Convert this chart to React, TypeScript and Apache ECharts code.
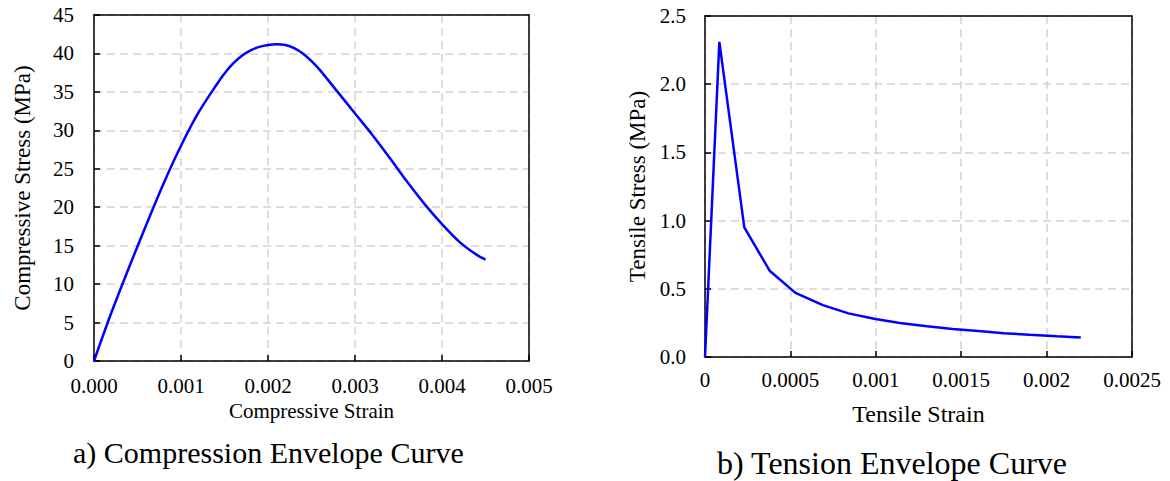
import React, { useEffect, useRef } from "react";
import * as echarts from "echarts";

// Compression envelope: strain vs stress (MPa)
const compStrain = [0, 0.0002, 0.0004, 0.0006, 0.0008, 0.001, 0.0012, 0.0014, 0.0015, 0.0016, 0.0017, 0.0018, 0.0019, 0.002, 0.0021, 0.0022, 0.0023, 0.0024, 0.0025, 0.0026, 0.0028, 0.003, 0.0032, 0.0034, 0.0036, 0.0038, 0.004, 0.0042, 0.0044, 0.0045];
const compStress = [0, 6.3, 12.1, 17.7, 23.1, 28.0, 32.3, 35.8, 37.4, 38.7, 39.7, 40.4, 40.85, 41.1, 41.2, 41.1, 40.7, 40.0, 39.0, 37.8, 35.0, 32.2, 29.4, 26.4, 23.3, 20.4, 17.8, 15.5, 13.8, 13.2];

// Tension envelope: strain vs stress (MPa)
const tensStrain = [0, 0.000084, 0.00023, 0.00038, 0.00053, 0.00069, 0.00084, 0.00099, 0.00114, 0.0013, 0.00145, 0.0016, 0.00175, 0.0019, 0.00206, 0.0022];
const tensStress = [0, 2.31, 0.95, 0.63, 0.47, 0.38, 0.32, 0.28, 0.25, 0.225, 0.205, 0.19, 0.175, 0.163, 0.152, 0.143];

const captions = ["a) Compression Envelope Curve", "b) Tension Envelope Curve"];

const FONT = "'Liberation Serif', 'Times New Roman', serif";

export default function App() {
  const ref = useRef<HTMLDivElement>(null);

  useEffect(() => {
    document.body.style.margin = "0";
    const chart = echarts.init(ref.current!, undefined, { renderer: "svg" });

    const axisLine = { show: true, onZero: false, lineStyle: { color: "#000", width: 1.5 } };
    const axisTick = { show: true, inside: true, length: 6, lineStyle: { color: "#000", width: 1.5 } };
    const splitLine = { show: true, lineStyle: { color: "#d4d4d4", width: 1.5, type: [8, 5] as any } };
    const tickLabel = { color: "#000", fontFamily: FONT, fontSize: 21 };
    const nameStyle = (size: number) => ({ color: "#000", fontFamily: FONT, fontSize: size });

    // Plain frame edges (top / right) drawn as bare axes so they sit above the grid lines
    const frame = (gridIndex: number, position: string, min: number, max: number) => ({
      type: "value", gridIndex, position, min, max,
      axisLine, axisTick: { show: false }, axisLabel: { show: false }, splitLine: { show: false },
    });

    const option: any = {
      animation: false,
      backgroundColor: "#fff",
      grid: [
        { left: 94, top: 15, width: 435, height: 346 },
        { left: 705, top: 16, width: 427, height: 341 },
      ],
      xAxis: [
        {
          type: "value", gridIndex: 0, min: 0, max: 0.005, interval: 0.001,
          name: "Compressive Strain", nameLocation: "middle", nameGap: 39, nameTextStyle: nameStyle(21),
          axisLine, axisTick, splitLine,
          axisLabel: { ...tickLabel, margin: 14, formatter: (v: number) => v.toFixed(3) },
        },
        {
          type: "value", gridIndex: 1, min: 0, max: 0.0025, interval: 0.0005,
          name: "Tensile Strain", nameLocation: "middle", nameGap: 45, nameTextStyle: nameStyle(24),
          axisLine, axisTick, splitLine,
          axisLabel: { ...tickLabel, margin: 12, formatter: (v: number) => String(parseFloat(v.toFixed(4))) },
        },
        frame(0, "top", 0, 0.005),
        frame(1, "top", 0, 0.0025),
      ],
      yAxis: [
        {
          type: "value", gridIndex: 0, min: 0, max: 45, interval: 5,
          name: "Compressive Stress (MPa)", nameLocation: "middle", nameGap: 60, nameRotate: 90, nameTextStyle: nameStyle(23),
          axisLine, axisTick, splitLine,
          axisLabel: { ...tickLabel, margin: 20 },
        },
        {
          type: "value", gridIndex: 1, min: 0, max: 2.5, interval: 0.5,
          name: "Tensile Stress (MPa)", nameLocation: "middle", nameGap: 56, nameRotate: 90, nameTextStyle: nameStyle(23),
          axisLine, axisTick, splitLine,
          axisLabel: { ...tickLabel, margin: 19, formatter: (v: number) => v.toFixed(1) },
        },
        frame(0, "right", 0, 45),
        frame(1, "right", 0, 2.5),
      ],
      series: [
        {
          type: "line", xAxisIndex: 0, yAxisIndex: 0, smooth: 0.3, showSymbol: false,
          lineStyle: { color: "#0000ff", width: 2.5 },
          data: compStrain.map((s, i) => [s, compStress[i]]),
        },
        {
          type: "line", xAxisIndex: 1, yAxisIndex: 1, smooth: false, showSymbol: false,
          lineStyle: { color: "#0000ff", width: 2.5 },
          data: tensStrain.map((s, i) => [s, tensStress[i]]),
        },
      ],
      graphic: [
        { type: "text", left: 73, top: 437, style: { text: captions[0], fill: "#000", font: `30px ${FONT}` } },
        { type: "text", left: 717, top: 447, style: { text: captions[1], fill: "#000", font: `32px ${FONT}` } },
      ],
    };

    chart.setOption(option);
    return () => chart.dispose();
  }, []);

  return <div ref={ref} style={{ width: 1170, height: 481 }} />;
}
